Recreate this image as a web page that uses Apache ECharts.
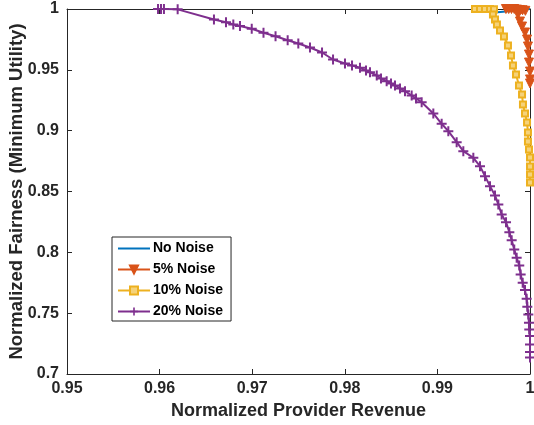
<!DOCTYPE html>
<html>
<head>
<meta charset="utf-8">
<script src="https://cdn.jsdelivr.net/npm/echarts@6/dist/echarts.min.js"></script>
<style>
html,body{margin:0;padding:0;background:#fff;}
#chart{width:534px;height:425px;}
</style>
</head>
<body>
<div id="chart"></div>
<script>
// ---- data (x = normalized provider revenue, y = normalized fairness) ----
var seriesNames = ['No Noise', '5% Noise', '10% Noise', '20% Noise'];

var noNoise = [
  [0.99622, 0.9971], [0.9985, 0.9988], [1.0, 1.0]
];

var noise5 = [
  [0.9974, 1.0], [0.9977, 1.0], [0.9980, 1.0], [0.9983, 1.0], [0.9986, 0.9995],
  [0.9989, 0.9992], [0.9992, 0.9990], [0.9995, 0.9985],
  [0.9987, 0.9955], [0.99892, 0.9897], [0.99914, 0.9856], [0.99946, 0.9807],
  [0.99968, 0.9749], [0.99978, 0.9692], [0.99989, 0.9626], [0.99989, 0.9560],
  [1.0, 0.9486], [1.0, 0.9421], [1.0, 0.9388]
];

var noise10 = [
  [0.99406, 1.0], [0.99460, 1.0], [0.99514, 1.0], [0.99568, 1.0], [0.99611, 0.9998],
  [0.99600, 0.99548], [0.99622, 0.99137], [0.99643, 0.98726], [0.99676, 0.98233],
  [0.99719, 0.97740], [0.99762, 0.97001], [0.99795, 0.96179], [0.99816, 0.95357],
  [0.99849, 0.94618], [0.99881, 0.93714], [0.99914, 0.92974], [0.99924, 0.92153],
  [0.99946, 0.91413], [0.99968, 0.90674], [0.99978, 0.89852], [0.99978, 0.89113],
  [0.99989, 0.88455], [1.0, 0.87798], [1.0, 0.87058], [1.0, 0.86401], [1.0, 0.85744]
];

var noise20 = [
  [0.95983, 1.0], [0.96015, 1.0], [0.96047, 1.0], [0.96195, 0.9997],
  [0.96587, 0.99137], [0.96717, 0.98915], [0.96796, 0.98726], [0.96868, 0.98603],
  [0.96995, 0.98373], [0.97122, 0.98044], [0.97252, 0.97765], [0.97383, 0.97436],
  [0.97498, 0.97165], [0.97624, 0.96836], [0.97754, 0.96426], [0.97873, 0.95850],
  [0.98002, 0.95522], [0.98078, 0.95357], [0.98164, 0.95168], [0.98229, 0.94947],
  [0.98272, 0.94807], [0.98345, 0.94536], [0.98391, 0.94289], [0.98452, 0.94067],
  [0.98499, 0.93878], [0.98542, 0.93714], [0.98596, 0.93468], [0.98650, 0.93246],
  [0.98722, 0.92892], [0.98769, 0.92646], [0.98830, 0.92342], [0.98956, 0.91413],
  [0.99046, 0.90567], [0.99118, 0.89959], [0.99208, 0.89055], [0.99280, 0.88316],
  [0.99388, 0.87773], [0.99460, 0.87083], [0.99514, 0.86261], [0.99568, 0.85440],
  [0.99622, 0.84676], [0.99658, 0.83936], [0.99694, 0.83114], [0.99741, 0.82481],
  [0.99777, 0.81660], [0.99802, 0.81002], [0.99830, 0.80238], [0.99856, 0.79556],
  [0.99884, 0.78924], [0.99899, 0.78184], [0.99921, 0.77502], [0.99946, 0.76894],
  [0.99964, 0.76188], [0.99971, 0.75530], [0.99982, 0.74897], [0.99989, 0.74215],
  [0.99992, 0.73665], [1.0, 0.73114], [1.0, 0.72432], [1.0, 0.71800], [1.0, 0.71364]
];

var xTickLabels = ['0.95', '0.96', '0.97', '0.98', '0.99', '1'];
var yTickLabels = ['0.7', '0.75', '0.8', '0.85', '0.9', '0.95', '1'];

// ---- chart ----
var colors = ['#0072BD', '#D95319', '#EDB120', '#7E2F8E'];
var axisColor = '#262626';
var fontFam = '"Liberation Sans", Arial, Helvetica, sans-serif';
var plusPath = 'path://M4,0h2v4h4v2h-4v4h-2v-4h-4v-2h4z';

function xLabel(v) {
  var i = Math.round((v - 0.95) / 0.01);
  return xTickLabels[i] !== undefined ? xTickLabels[i] : '';
}
function yLabel(v) {
  var i = Math.round((v - 0.7) / 0.05);
  return yTickLabels[i] !== undefined ? yTickLabels[i] : '';
}

var xBase = {
  type: 'value', min: 0.95, max: 1, interval: 0.01,
  axisLine: { show: true, onZero: false, lineStyle: { color: axisColor, width: 1 } },
  axisTick: { show: true, inside: true, length: 5, lineStyle: { color: axisColor } },
  splitLine: { show: false }
};
var yBase = {
  type: 'value', min: 0.7, max: 1, interval: 0.05,
  axisLine: { show: true, onZero: false, lineStyle: { color: axisColor, width: 1 } },
  axisTick: { show: true, inside: true, length: 5, lineStyle: { color: axisColor } },
  splitLine: { show: false }
};

var chart = echarts.init(document.getElementById('chart'), null, { renderer: 'canvas' });
chart.setOption({
  animation: false,
  backgroundColor: '#ffffff',
  color: colors,
  grid: { left: 67, right: 4, top: 9, bottom: 51, containLabel: false, outerBoundsMode: 'none' },
  xAxis: [
    Object.assign({}, xBase, {
      position: 'bottom',
      name: 'Normalized Provider Revenue',
      nameLocation: 'middle', nameGap: 28, nameMoveOverlap: false,
      nameTextStyle: { fontFamily: fontFam, fontWeight: 'bold', fontSize: 18, color: axisColor },
      axisLabel: { show: true, margin: 7, fontFamily: fontFam, fontWeight: 'bold', fontSize: 16, color: axisColor, formatter: xLabel }
    }),
    Object.assign({}, xBase, { position: 'top', axisLabel: { show: false } })
  ],
  yAxis: [
    Object.assign({}, yBase, {
      position: 'left',
      name: 'Normalized Fairness (Minimum Utility)',
      nameLocation: 'middle', nameGap: 41, nameMoveOverlap: false,
      nameTextStyle: { fontFamily: fontFam, fontWeight: 'bold', fontSize: 18.5, color: axisColor },
      axisLabel: { show: true, margin: 8, fontFamily: fontFam, fontWeight: 'bold', fontSize: 16, color: axisColor, formatter: yLabel }
    }),
    Object.assign({}, yBase, { position: 'right', axisLabel: { show: false } })
  ],
  legend: {
    orient: 'vertical',
    left: 112, top: 237,
    data: [
      { name: seriesNames[0], itemStyle: { opacity: 0 } },
      seriesNames[1], seriesNames[2], seriesNames[3]
    ],
    backgroundColor: '#ffffff',
    borderColor: '#262626', borderWidth: 1, borderRadius: 0,
    padding: [4, 8, 2, 5],
    itemWidth: 32, itemHeight: 10, itemGap: 6,
    textStyle: { fontFamily: fontFam, fontWeight: 'bold', fontSize: 14, lineHeight: 15, color: '#000', padding: [0, 0, 0, -2] }
  },
  series: [
    {
      name: seriesNames[0], type: 'line', data: noNoise,
      xAxisIndex: 0, yAxisIndex: 0,
      showSymbol: false, symbol: 'none',
      lineStyle: { width: 2, color: colors[0] }, itemStyle: { color: colors[0] }
    },
    {
      name: seriesNames[1], type: 'line', data: noise5,
      xAxisIndex: 0, yAxisIndex: 0,
      symbol: 'triangle', symbolRotate: 180, symbolSize: 9,
      lineStyle: { width: 2, color: colors[1] },
      itemStyle: { color: colors[1], borderColor: colors[1], borderWidth: 1 }
    },
    {
      name: seriesNames[2], type: 'line', data: noise10,
      xAxisIndex: 0, yAxisIndex: 0,
      symbol: 'rect', symbolSize: 6,
      lineStyle: { width: 2, color: colors[2] },
      itemStyle: { color: '#F5D27A', borderColor: colors[2], borderWidth: 2 }
    },
    {
      name: seriesNames[3], type: 'line', data: noise20,
      xAxisIndex: 0, yAxisIndex: 0,
      symbol: plusPath, symbolSize: 10,
      lineStyle: { width: 2, color: colors[3] },
      itemStyle: { color: colors[3] }
    }
  ]
});
</script>
</body>
</html>
